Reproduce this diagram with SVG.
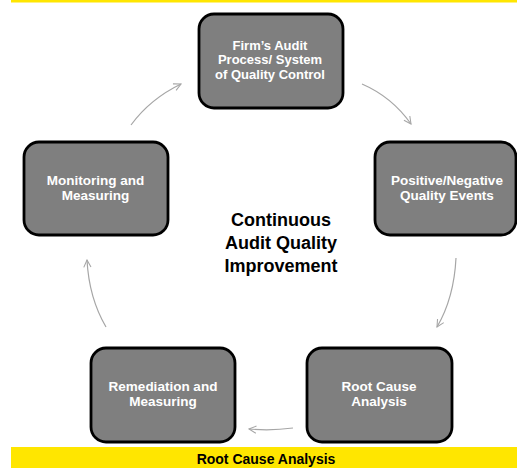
<svg xmlns="http://www.w3.org/2000/svg" width="517" height="468" viewBox="0 0 517 468">
  <style>
    .box { fill: #7f7f7f; stroke: #000; stroke-width: 2.8; }
    .label { font-family: "Liberation Sans", Arial, sans-serif; font-weight: bold; font-size: 13.5px; fill: #fff; text-anchor: middle; }
    .label.tight { font-size: 13px; }
    .center { font-family: "Liberation Sans", Arial, sans-serif; font-weight: bold; font-size: 18px; fill: #000; text-anchor: middle; }
    .band-text { font-family: "Liberation Sans", Arial, sans-serif; font-weight: bold; font-size: 14px; fill: #000; text-anchor: middle; }
    .link { fill: none; stroke: #a6a6a6; stroke-width: 1.2; marker-end: url(#chev); }
  </style>
  <defs>
    <marker id="chev" viewBox="0 0 10 10" refX="9" refY="5" markerWidth="9" markerHeight="9" markerUnits="userSpaceOnUse" orient="auto">
      <path d="M1,1 L9,5 L1,9" fill="none" stroke="#a6a6a6" stroke-width="1.2"/>
    </marker>
  </defs>

  <rect width="517" height="468" fill="#fff"/>
  <!-- yellow header rule and footer band -->
  <rect x="11" y="0" width="506" height="2.5" fill="#ffe600"/>
  <rect x="11" y="447" width="506" height="21" fill="#ffe600"/>
  <text class="band-text" x="266" y="464">Root Cause Analysis</text>

  <text class="center" x="281" y="226">Continuous</text>
  <text class="center" x="281" y="249">Audit Quality</text>
  <text class="center" x="281" y="272">Improvement</text>

  <g id="connectors">
    <path class="link" d="M131,125 Q150,99 181,84"/>
    <path class="link" d="M362,84 Q392,97 411,124"/>
    <path class="link" d="M456,258 Q454,298 437,327"/>
    <path class="link" d="M293,428 Q271,431 249,429"/>
    <path class="link" d="M106,327 Q89,298 87,260"/>
  </g>

  <g id="node-audit-process">
    <rect class="box" x="199" y="14" width="144" height="94" rx="15"/>
    <text class="label tight" x="270" y="49.6">Firm’s Audit</text>
    <text class="label tight" x="270" y="64.2">Process/ System</text>
    <text class="label tight" x="270" y="78.8">of Quality Control</text>
  </g>

  <g id="node-quality-events">
    <rect class="box" x="375" y="142" width="141" height="93" rx="15"/>
    <text class="label" x="447" y="185">Positive/Negative</text>
    <text class="label" x="447" y="200.2">Quality Events</text>
  </g>

  <g id="node-root-cause">
    <rect class="box" x="307" y="348" width="145" height="94" rx="15"/>
    <text class="label" x="379" y="391">Root Cause</text>
    <text class="label" x="379" y="406.2">Analysis</text>
  </g>

  <g id="node-remediation">
    <rect class="box" x="91" y="348" width="144" height="94" rx="15"/>
    <text class="label" x="163" y="391">Remediation and</text>
    <text class="label" x="163" y="406.2">Measuring</text>
  </g>

  <g id="node-monitoring">
    <rect class="box" x="24" y="142" width="144" height="93" rx="15"/>
    <text class="label" x="95.5" y="185">Monitoring and</text>
    <text class="label" x="95.5" y="200.2">Measuring</text>
  </g>
</svg>
